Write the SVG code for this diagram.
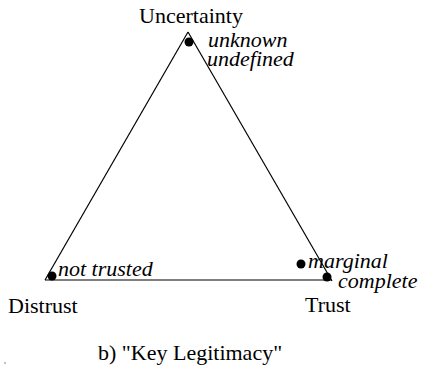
<svg xmlns="http://www.w3.org/2000/svg" width="422" height="370" viewBox="0 0 422 370">
<style>
text{font-family:'Liberation Serif','Times New Roman',Times,'DejaVu Serif',serif;font-size:22px;fill:#000}
.it{font-style:italic}
.dot{fill:#000}
</style>
<rect width="422" height="370" fill="#fff"/>
<g id="connectors" stroke="#000" stroke-width="1.2" fill="none">
<line x1="188" y1="32" x2="45" y2="280"/>
<line x1="188" y1="32" x2="332" y2="281"/>
<line x1="45" y1="280" x2="332" y2="280"/>
</g>
<g id="uncertainty">
<text x="191" y="23" text-anchor="middle">Uncertainty</text>
<circle class="dot" cx="189" cy="42" r="4.5"/>
<text class="it" x="208" y="47">unknown</text>
<text class="it" x="207" y="66">undefined</text>
</g>
<g id="distrust">
<text x="8" y="313">Distrust</text>
<circle class="dot" cx="52" cy="276" r="4.5"/>
<text class="it" x="58" y="276">not trusted</text>
</g>
<g id="trust">
<text x="305" y="312">Trust</text>
<circle class="dot" cx="301" cy="264" r="4.5"/>
<circle class="dot" cx="327" cy="277" r="4.5"/>
<text class="it" x="308" y="268">marginal</text>
<text class="it" x="338" y="288">complete</text>
</g>
<text x="98" y="360">b) "Key Legitimacy"</text>
<circle cx="5" cy="363" r="0.7" fill="#555"/>
</svg>
